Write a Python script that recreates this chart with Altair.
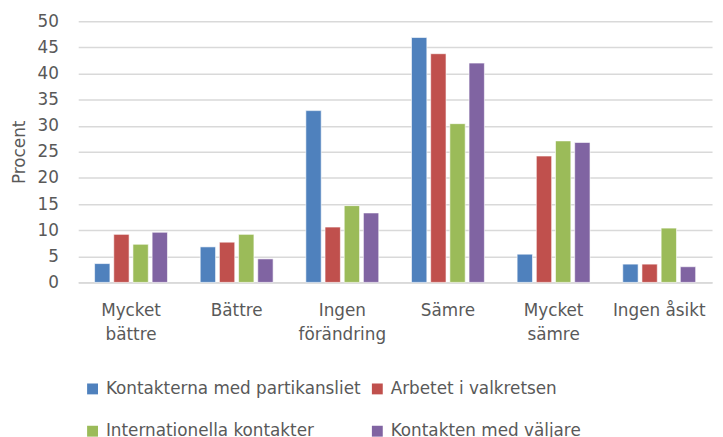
import altair as alt
import pandas as pd

categories = ["Mycket bättre", "Bättre", "Ingen förändring", "Sämre", "Mycket sämre", "Ingen åsikt"]
series = ["Kontakterna med partikansliet", "Arbetet i valkretsen",
          "Internationella kontakter", "Kontakten med väljare"]
colors = ["#4F81BD", "#C0504D", "#9BBB59", "#8064A2"]

kontakterna = [3.6, 6.8, 32.9, 46.9, 5.4, 3.5]
arbetet = [9.2, 7.7, 10.6, 43.8, 24.2, 3.5]
internationella = [7.3, 9.2, 14.7, 30.4, 27.1, 10.4]
valjare = [9.6, 4.5, 13.3, 42.0, 26.8, 3.0]

values = [kontakterna, arbetet, internationella, valjare]
rows = []
for s, vals in zip(series, values):
    for c, v in zip(categories, vals):
        rows.append({"kategori": c, "serie": s, "procent": v})
df = pd.DataFrame(rows)

FONT = "DejaVu Sans"
TXT = "#595959"

chart = alt.Chart(df).mark_bar(stroke="white", strokeWidth=1, strokeOpacity=0.6).encode(
    x=alt.X("kategori:N", sort=categories, title=None,
            scale=alt.Scale(paddingInner=0.31, paddingOuter=0.155),
            axis=alt.Axis(labelAngle=0, ticks=False, domainColor="#D9D9D9", domainWidth=2,
                          labelPadding=20, labelFontSize=17, labelColor=TXT, labelFont=FONT,
                          labelLineHeight=25, labelBaseline="top",
                          labelExpr="datum.value == 'Ingen åsikt' || datum.value == 'Bättre' || datum.value == 'Sämre' ? datum.value : split(datum.value, ' ')")),
    xOffset=alt.XOffset("serie:N", sort=series, scale=alt.Scale(paddingInner=0.2)),
    y=alt.Y("procent:Q", title="Procent",
            scale=alt.Scale(domain=[0, 50]),
            axis=alt.Axis(values=list(range(0, 51, 5)), domain=False, ticks=False,
                          gridColor="#D9D9D9", gridWidth=1.5,
                          labelFontSize=17, labelColor=TXT, labelFont=FONT, labelPadding=20,
                          titleFontSize=17, titleColor=TXT, titleFont=FONT, titleFontWeight="normal",
                          titlePadding=9)),
    color=alt.Color("serie:N", sort=series,
                    scale=alt.Scale(domain=series, range=colors),
                    legend=alt.Legend(title=None, orient="none", legendX=6, legendY=363,
                                      columns=2, direction="horizontal",
                                      symbolType="square", symbolSize=121, symbolStrokeWidth=0,
                                      labelFontSize=17, labelColor=TXT, labelFont=FONT,
                                      labelOffset=5, columnPadding=8, rowPadding=25,
                                      labelLimit=400)),
).properties(
    width=641, height=264,
    padding={"left": 71, "top": 11, "right": 3, "bottom": 165},
    autosize=alt.AutoSizeParams(type="none"),
).configure_view(stroke=None)

chart.save("out.html", embed_options={"renderer": "svg", "actions": False})
